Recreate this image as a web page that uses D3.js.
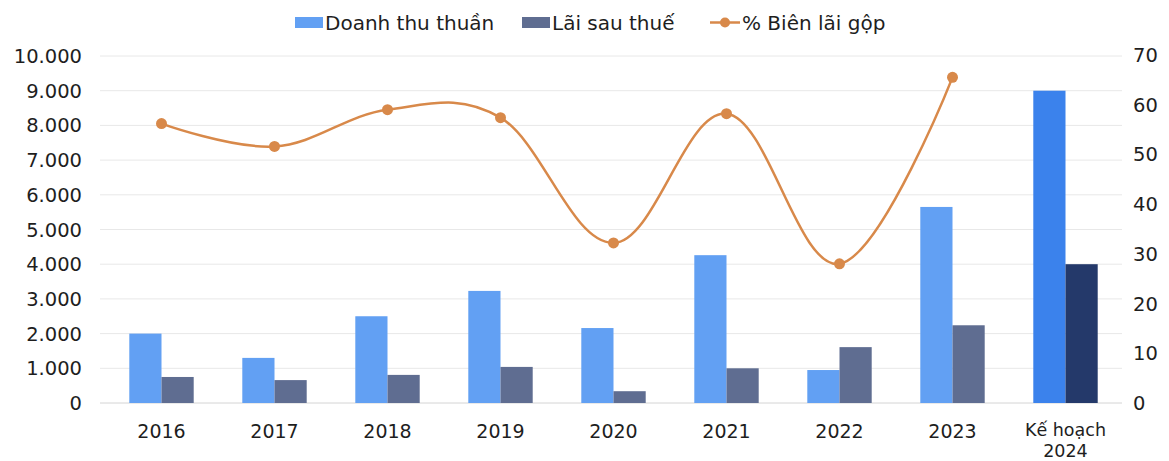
<!DOCTYPE html>
<html>
<head>
<meta charset="utf-8">
<script src="https://cdn.jsdelivr.net/npm/d3@7"></script>
<style>
  body { margin: 0; background: #fff; }
  text { font-family: "DejaVu Sans", "Liberation Sans", Arial, sans-serif; fill: #1e1e1e; }
</style>
</head>
<body>
<svg width="1169" height="461"></svg>
<script>
// data
var categories = ["2016", "2017", "2018", "2019", "2020", "2021", "2022", "2023", "Kế hoạch\n2024"];
var revenue = [2000, 1300, 2500, 3230, 2160, 4260, 950, 5650, 9000];   // Doanh thu thuần
var profit  = [750, 660, 810, 1040, 340, 1000, 1610, 2240, 4000];     // Lãi sau thuế
var margin_pct = [56.2, 51.6, 59, 57.4, 32.2, 58.2, 28, 65.5];          // % Biên lãi gộp (no plan value)
var leftTicks = [0, 1000, 2000, 3000, 4000, 5000, 6000, 7000, 8000, 9000, 10000];
var rightTicks = [0, 10, 20, 30, 40, 50, 60, 70];

var svg = d3.select("svg"),
    plotL = 105, plotR = 1122, plotT = 56, plotB = 403;

var x = d3.scaleBand().domain(categories).range([plotL, plotR]).paddingInner(0.43).paddingOuter(0.215);
var xs = d3.scaleBand().domain(["rev", "prof"]).range([0, x.bandwidth()]);
var y = d3.scaleLinear().domain([0, 10000]).range([plotB, plotT]);
var y2 = d3.scaleLinear().domain([0, 70]).range([plotB, plotT - 1]);

var fmt = function(v) { return d3.format(",")(v).replace(/,/g, "."); };

// gridlines
svg.append("g").selectAll("line")
    .data(leftTicks)
    .enter().append("line")
    .attr("x1", plotL - 5).attr("x2", plotR)
    .attr("y1", function(d) { return y(d); }).attr("y2", function(d) { return y(d); })
    .attr("stroke", function(d) { return d === 0 ? "#d4d4d4" : "#e8e8e8"; })
    .attr("stroke-width", 1);

// left axis labels
svg.append("g").selectAll("text")
    .data(leftTicks)
    .enter().append("text")
    .attr("x", 82).attr("y", function(d) { return y(d); })
    .attr("dy", "0.36em").attr("text-anchor", "end")
    .style("font-size", "19.5px")
    .text(fmt);

// right axis labels
svg.append("g").selectAll("text")
    .data(rightTicks)
    .enter().append("text")
    .attr("x", 1133).attr("y", function(d) { return y2(d); })
    .attr("dy", "0.36em").attr("text-anchor", "start")
    .style("font-size", "19.5px")
    .text(function(d) { return d; });

// x labels (one text per line so the plan label's two lines don't overlap)
var xg = svg.append("g");
categories.forEach(function(c) {
    var parts = c.split("\n"), multi = parts.length > 1;
    parts.forEach(function(p, i) {
        xg.append("text")
            .attr("text-anchor", "middle")
            .style("font-size", multi ? "17.5px" : "19px")
            .attr("x", x(c) + x.bandwidth() / 2)
            .attr("y", (multi ? 436 : 438) + i * 20.5)
            .text(p);
    });
});

// bars
var last = categories.length - 1;
var g = svg.append("g").selectAll("g")
    .data(categories)
    .enter().append("g")
    .attr("transform", function(d) { return "translate(" + x(d) + ",0)"; });

g.append("rect")
    .attr("x", xs("rev")).attr("width", xs.bandwidth())
    .attr("y", function(d, i) { return y(revenue[i]); })
    .attr("height", function(d, i) { return y(0) - y(revenue[i]); })
    .attr("fill", function(d, i) { return i === last ? "#3b82ec" : "#62a0f3"; });

g.append("rect")
    .attr("x", xs("prof")).attr("width", xs.bandwidth())
    .attr("y", function(d, i) { return y(profit[i]); })
    .attr("height", function(d, i) { return y(0) - y(profit[i]); })
    .attr("fill", function(d, i) { return i === last ? "#24396a" : "#5f6d91"; });

// line
var pts = margin_pct.map(function(v, i) { return [x(categories[i]) + x.bandwidth() / 2, y2(v)]; });
var line = d3.line().curve(d3.curveCardinal.tension(-0.1));
svg.append("path")
    .attr("d", line(pts))
    .attr("fill", "none")
    .attr("stroke", "#d8894a")
    .attr("stroke-width", 2.5);
svg.append("g").selectAll("circle")
    .data(pts)
    .enter().append("circle")
    .attr("cx", function(d) { return d[0]; })
    .attr("cy", function(d) { return d[1]; })
    .attr("r", 5.5)
    .attr("fill", "#d8894a");

// legend
var lg = svg.append("g").style("font-size", "20px");
lg.append("rect").attr("x", 295).attr("y", 17).attr("width", 28).attr("height", 11).attr("fill", "#62a0f3");
lg.append("text").attr("x", 325).attr("y", 30).text("Doanh thu thuần");
lg.append("rect").attr("x", 522).attr("y", 17).attr("width", 28).attr("height", 11).attr("fill", "#5f6d91");
lg.append("text").attr("x", 552).attr("y", 30).text("Lãi sau thuế");
lg.append("line").attr("x1", 710).attr("x2", 740).attr("y1", 22.5).attr("y2", 22.5)
    .attr("stroke", "#d8894a").attr("stroke-width", 2.5);
lg.append("circle").attr("cx", 725).attr("cy", 22.5).attr("r", 5).attr("fill", "#d8894a");
lg.append("text").attr("x", 742).attr("y", 30).text("% Biên lãi gộp");
</script>
</body>
</html>
